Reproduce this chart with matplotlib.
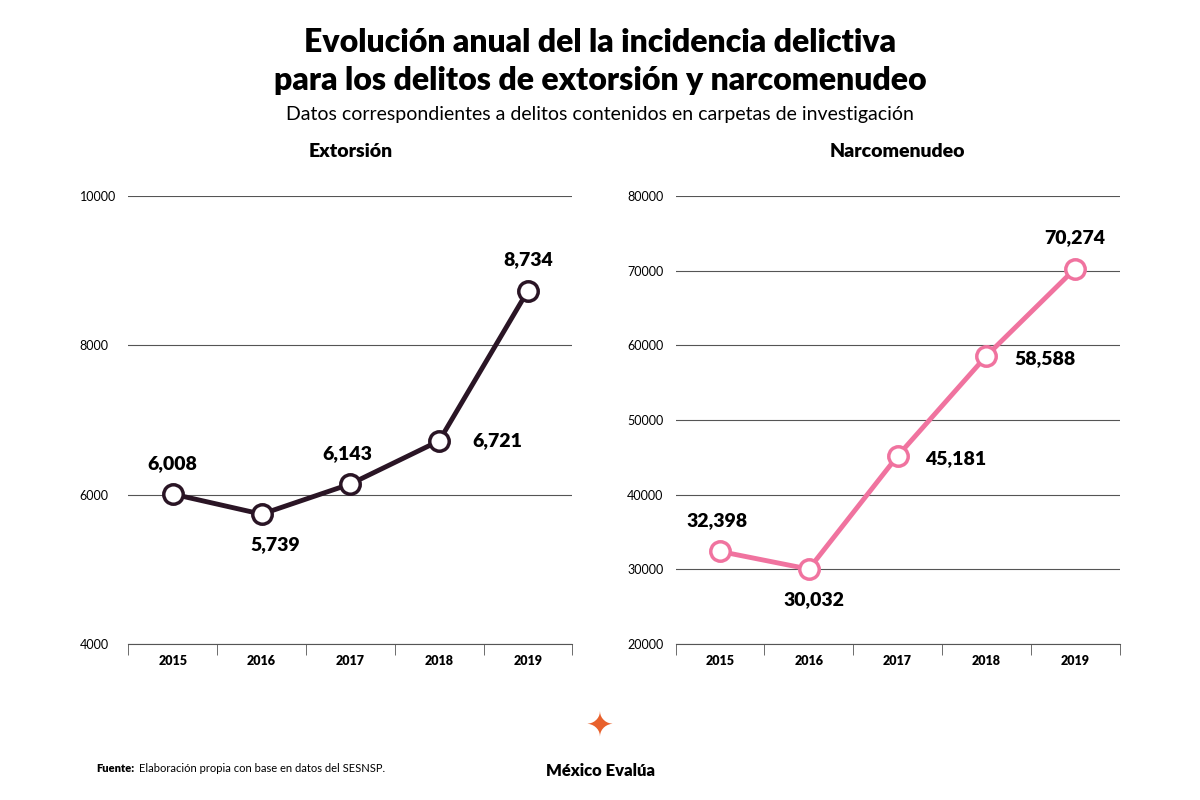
import matplotlib
matplotlib.use("Agg")
import matplotlib.pyplot as plt

years = ["2015", "2016", "2017", "2018", "2019"]
extorsion = [6008, 5739, 6143, 6721, 8734]
narco = [32398, 30032, 45181, 58588, 70274]
ext_offsets = [(0, 22), (10, -22), (-2, 22), (42, 0), (0, 22)]
nar_offsets = [(-2, 22), (4, -22), (42, -2), (42, -2), (0, 22)]

plt.rcParams['font.family'] = ['Lato', 'DejaVu Sans']
fig = plt.figure(figsize=(12, 8), dpi=100)

fig.text(0.5, 0.965, "Evolución anual del la incidencia delictiva", ha='center', va='top', fontsize=23, fontweight='heavy')
fig.text(0.5, 0.918, "para los delitos de extorsión y narcomenudeo", ha='center', va='top', fontsize=23, fontweight='heavy')
fig.text(0.5, 0.868, "Datos correspondientes a delitos contenidos en carpetas de investigación", ha='center', va='top', fontsize=14)

def panel(rect, title, vals, color, ylim, ticks, offsets):
    ax = fig.add_axes(rect)
    x = range(len(vals))
    ax.plot(x, vals, color=color, lw=3.5, marker='o', ms=14, mfc='white', mec=color, mew=2.5, zorder=3)
    for i, v in enumerate(vals):
        ax.annotate(f"{v:,}", (i, v), xytext=offsets[i], textcoords='offset points',
                    ha='center', va='center', fontsize=14, fontweight='heavy')
    ax.set_xlim(-0.5, len(vals) - 0.5)
    ax.set_ylim(*ylim)
    ax.set_yticks(ticks)
    ax.set_yticklabels([str(t) for t in ticks], fontsize=9)
    ax.set_xticks(list(x))
    ax.set_xticklabels(years, fontsize=9, fontweight='heavy')
    ax.set_xticks([i + 0.5 for i in range(-1, len(vals))], minor=True)
    ax.tick_params(axis='x', which='major', length=0, pad=8)
    ax.tick_params(axis='x', which='minor', length=8, color='#555')
    ax.tick_params(axis='y', length=0, pad=35)
    for t in ax.get_yticklabels():
        t.set_ha('left')
    ax.grid(axis='y', color='#555', lw=0.8)
    for s in ['top', 'right', 'left']:
        ax.spines[s].set_visible(False)
    ax.spines['bottom'].set_color('#555')
    ax.set_title(title, fontsize=14, fontweight='heavy', pad=28)
    return ax

panel([0.107, 0.195, 0.37, 0.56], "Extorsión", extorsion, '#2a1525', (4000, 10000), [4000, 6000, 8000, 10000], ext_offsets)
panel([0.563, 0.195, 0.37, 0.56], "Narcomenudeo", narco, '#f0739f', (20000, 80000), [20000, 30000, 40000, 50000, 60000, 70000, 80000], nar_offsets)

fig.text(0.08, 0.035, "Fuente:", fontsize=8, fontweight='heavy')
fig.text(0.116, 0.035, "Elaboración propia con base en datos del SESNSP.", fontsize=8)
fig.text(0.5, 0.03, "México Evalúa", ha='center', fontsize=12, fontweight='heavy')
fig.text(0.5, 0.08, "✦", ha='center', fontsize=24, color='#e8612c', family='DejaVu Sans')

fig.savefig("out.png", dpi=100, facecolor='white')
